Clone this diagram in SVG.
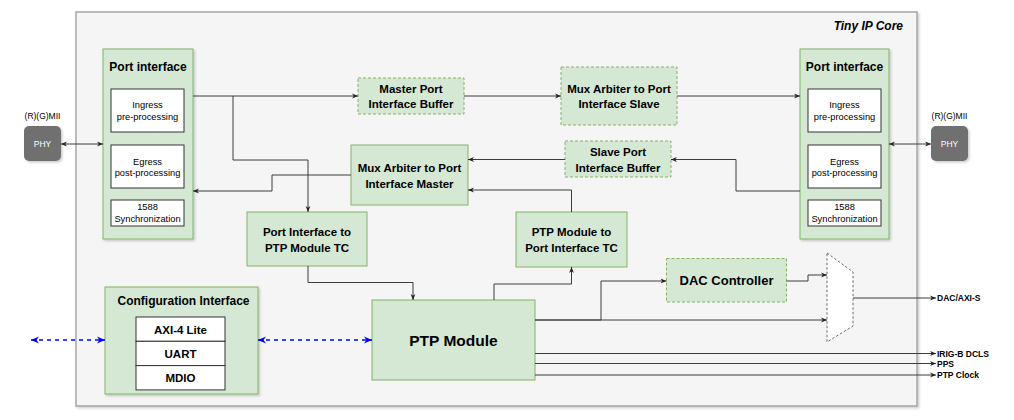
<svg xmlns="http://www.w3.org/2000/svg" width="1014" height="420" viewBox="0 0 1014 420">
<style>
text{font-family:"Liberation Sans",Arial,sans-serif;fill:#000;text-anchor:middle;dominant-baseline:central}
.g{fill:#d5e8d4;stroke:#82b366;stroke-width:1}
.gd{fill:#d5e8d4;stroke:#82b366;stroke-width:1;stroke-dasharray:3 2}
.w{fill:#fff;stroke:#333;stroke-width:1}
.t{font-weight:bold;font-size:11.5px}
.s{font-size:9.3px}
.o{font-weight:bold;font-size:8.5px;text-anchor:start}
.c path{fill:none;stroke:#3c3c3c;stroke-width:1}
.c .b{stroke:#0000ff;stroke-width:1.5;stroke-dasharray:4 4}
</style>
<defs>
<filter id="sh" x="-10%" y="-10%" width="130%" height="130%"><feDropShadow dx="1.5" dy="1.5" stdDeviation="1" flood-color="#000" flood-opacity="0.2"/></filter>
<marker id="a" viewBox="0 0 10 10" refX="10" refY="5" markerWidth="6" markerHeight="6" orient="auto-start-reverse" markerUnits="userSpaceOnUse"><path d="M0,1 L10,5 L0,9 L3,5 z" fill="#222"/></marker>
<marker id="ab" viewBox="0 0 10 10" refX="10" refY="5" markerWidth="8" markerHeight="8" orient="auto-start-reverse" markerUnits="userSpaceOnUse"><path d="M0,0.5 L10,5 L0,9.5 L3,5 z" fill="#0000ff"/></marker>
</defs>
<g id="container">
<rect x="76" y="12" width="841" height="394" fill="#f5f5f5" stroke="#a6a6a6" stroke-width="1.5" filter="url(#sh)"/>
<text x="903" y="25.5" style="font-weight:bold;font-style:italic;font-size:12px;text-anchor:end">Tiny IP Core</text>
</g>
<g id="phy-left">
<text x="42.5" y="115.5" style="font-size:8.5px">(R)(G)MII</text>
<rect x="24" y="126" width="37" height="35" rx="5" fill="#707070" filter="url(#sh)"/>
<text x="42.5" y="143.5" style="font-size:8.5px;fill:#fff">PHY</text>
</g>
<g id="phy-right">
<text x="949.5" y="115.5" style="font-size:8.5px">(R)(G)MII</text>
<rect x="931" y="126" width="37" height="35" rx="5" fill="#707070" filter="url(#sh)"/>
<text x="949.5" y="143.5" style="font-size:8.5px;fill:#fff">PHY</text>
</g>
<g id="port-left">
<rect class="g" x="103" y="49" width="90" height="190" filter="url(#sh)"/>
<text x="148" y="67" style="font-weight:bold;font-size:12px">Port interface</text>
<rect class="w" x="111" y="89" width="73" height="43"/>
<text class="s" x="147.5" y="105">Ingress</text>
<text class="s" x="147.5" y="117">pre-processing</text>
<rect class="w" x="111" y="145" width="73" height="43"/>
<text class="s" x="147.5" y="161.5">Egress</text>
<text class="s" x="147.5" y="173">post-processing</text>
<rect class="w" x="111" y="200" width="73" height="26"/>
<text class="s" x="147.5" y="207.3">1588</text>
<text class="s" x="147.5" y="219.3">Synchronization</text>
</g>
<g id="port-right">
<rect class="g" x="800" y="49" width="89" height="190" filter="url(#sh)"/>
<text x="844.5" y="67" style="font-weight:bold;font-size:12px">Port interface</text>
<rect class="w" x="808" y="89" width="73" height="43"/>
<text class="s" x="844.5" y="105">Ingress</text>
<text class="s" x="844.5" y="117">pre-processing</text>
<rect class="w" x="808" y="145" width="73" height="43"/>
<text class="s" x="844.5" y="161.5">Egress</text>
<text class="s" x="844.5" y="173">post-processing</text>
<rect class="w" x="808" y="200" width="73" height="26"/>
<text class="s" x="844.5" y="207.3">1588</text>
<text class="s" x="844.5" y="219.3">Synchronization</text>
</g>
<g id="master-buffer">
<rect class="gd" x="358" y="78" width="106" height="36"/>
<text class="t" x="411" y="88.5">Master Port</text>
<text class="t" x="411" y="104">Interface Buffer</text>
</g>
<g id="mux-slave">
<rect class="gd" x="561" y="67" width="116" height="58"/>
<text class="t" x="619" y="88.5">Mux Arbiter to Port</text>
<text class="t" x="619" y="103.5">Interface Slave</text>
</g>
<g id="slave-buffer">
<rect class="gd" x="565" y="141" width="106" height="36"/>
<text class="t" x="618" y="151.5">Slave Port</text>
<text class="t" x="618" y="167.5">Interface Buffer</text>
</g>
<g id="mux-master">
<rect class="g" x="351" y="145" width="117" height="60"/>
<text class="t" x="409.5" y="167.5">Mux Arbiter to Port</text>
<text class="t" x="409.5" y="183.5">Interface Master</text>
</g>
<g id="port-to-ptp-tc">
<rect class="g" x="247" y="212" width="120" height="54"/>
<text class="t" x="307" y="232">Port Interface to</text>
<text class="t" x="307" y="248">PTP Module TC</text>
</g>
<g id="ptp-to-port-tc">
<rect class="g" x="516" y="212" width="111" height="55"/>
<text class="t" x="571.5" y="232">PTP Module to</text>
<text class="t" x="571.5" y="248">Port Interface TC</text>
</g>
<g id="config">
<rect class="g" x="105" y="287" width="153" height="107" filter="url(#sh)"/>
<text x="183.5" y="301" style="font-weight:bold;font-size:12px">Configuration Interface</text>
<rect class="w" x="136" y="317" width="89" height="24.3"/>
<rect class="w" x="136" y="341.3" width="89" height="24.3"/>
<rect class="w" x="136" y="365.6" width="89" height="24.3"/>
<text class="t" x="180.5" y="329.5">AXI-4 Lite</text>
<text class="t" x="180.5" y="353.5">UART</text>
<text class="t" x="180.5" y="377.8">MDIO</text>
</g>
<g id="ptp-module">
<rect class="g" x="372" y="300" width="163" height="80"/>
<text x="453.5" y="340" style="font-weight:bold;font-size:15.5px">PTP Module</text>
</g>
<g id="dac-controller">
<rect class="gd" x="666.5" y="258.5" width="120" height="43.5"/>
<text x="726.5" y="280.5" style="font-weight:bold;font-size:13px">DAC Controller</text>
</g>
<g id="mux">
<polygon points="827,253 853,272 853,326 827,342" fill="#fff" stroke="#444" stroke-width="0.8" stroke-dasharray="2.5 2"/>
</g>
<g id="connectors" class="c">
<path d="M61,144 H103" marker-start="url(#a)" marker-end="url(#a)"/>
<path d="M889,144 H931" marker-start="url(#a)" marker-end="url(#a)"/>
<path d="M193,96 H358" marker-end="url(#a)"/>
<path d="M233,96 V160 H308 V212" marker-end="url(#a)"/>
<path d="M464,96 H561" marker-end="url(#a)"/>
<path d="M677,96 H800" marker-end="url(#a)"/>
<path d="M800,191 H736 V159.5 H671" marker-end="url(#a)"/>
<path d="M565,159.5 H468" marker-end="url(#a)"/>
<path d="M571.5,212 V190 H468" marker-end="url(#a)"/>
<path d="M351,175 H272 V191 H193" marker-end="url(#a)"/>
<path d="M308,266 V282.5 H413 V300" marker-end="url(#a)"/>
<path d="M494,300 V284 H571.5 V267" marker-end="url(#a)"/>
<path d="M535,320 H601 V281 H666.5" marker-end="url(#a)"/>
<path d="M535,320 H827" marker-end="url(#a)"/>
<path d="M786.5,281 H808 V275 H827" marker-end="url(#a)"/>
<path d="M853,298 H936" marker-end="url(#a)"/>
<path d="M535,353.5 H936" marker-end="url(#a)"/>
<path d="M535,363.5 H936" marker-end="url(#a)"/>
<path d="M535,375 H936" marker-end="url(#a)"/>
<path class="b" d="M31,340 H105" marker-start="url(#ab)" marker-end="url(#ab)"/>
<path class="b" d="M258,340 H372" marker-start="url(#ab)" marker-end="url(#ab)"/>
</g>
<g id="output-labels">
<text class="o" x="937" y="298">DAC/AXI-S</text>
<text class="o" x="937" y="353.5">IRIG-B DCLS</text>
<text class="o" x="937" y="363.5">PPS</text>
<text class="o" x="937" y="375">PTP Clock</text>
</g>
</svg>
